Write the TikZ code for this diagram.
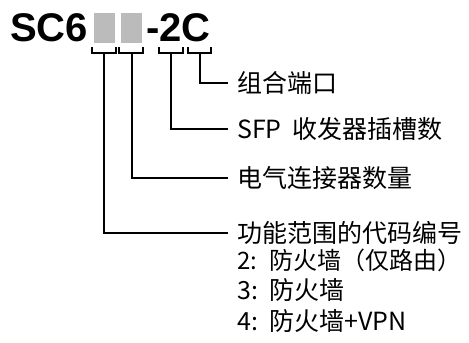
\documentclass[tikz,border=0pt]{standalone}
\usepackage{fontspec}
\setmainfont{Liberation Sans}
\newfontfamily\cjk{Noto Sans CJK SC}
\definecolor{boxgray}{RGB}{187,187,187}
\newcommand{\numlead}[1]{\makebox[32pt][l]{#1}}
\begin{document}
\begin{tikzpicture}[x=1pt,y=-1pt,
  titletext/.style={anchor=base west,inner sep=0pt,font=\bfseries\fontsize{40}{40}\selectfont},
  graybox/.style={fill=boxgray,draw=none,minimum width=21pt,minimum height=30pt,inner sep=0pt},
  bracketline/.style={line width=2pt,line join=miter},
  conn/.style={line width=2pt,shorten >=9pt},
  lbl/.style={anchor=west,inner sep=0pt,font=\cjk\fontsize{25}{25}\selectfont}]
\useasboundingbox (0,0) rectangle (469,343);
% title
\node[titletext] (sc6) at (10,41) {SC6};
\node[graybox] (g1) at (104.5,28) {};
\node[graybox] (g2) at (131.5,28) {};
\node[titletext] (tail) at (146,41) {-2C};
% brackets
\draw[bracketline] (92,47) -- (92,53) -- (116,53) -- (116,47);
\draw[bracketline] (119,47) -- (119,53) -- (143,53) -- (143,47);
\draw[bracketline] (159,47) -- (159,53) -- (183,53) -- (183,47);
\draw[bracketline] (188,47) -- (188,53) -- (211,53) -- (211,47);
\coordinate (b1) at (104,53);
\coordinate (b2) at (131.5,53);
\coordinate (b3) at (171,53);
\coordinate (b4) at (199.5,53);
% labels
\node[lbl] (l1) at (237,83) {组合端口};
\node[lbl] (l2) at (237,129) {\makebox[55pt][l]{SFP}收发器插槽数};
\node[lbl] (l3) at (237,178) {电气连接器数量};
\node[lbl] (l4) at (237,233) {功能范围的代码编号};
\node[lbl,font=\cjk\fontsize{24}{24}\selectfont] (l5) at (237,260) {\numlead{2:}防火墙（仅路由）};
\node[lbl] (l6) at (237,290) {\numlead{3:}防火墙};
\node[lbl] (l7) at (237,321) {\numlead{4:}防火墙+VPN};
% connectors
\draw[conn] (b4) |- (l1.west);
\draw[conn] (b3) |- (l2.west);
\draw[conn] (b2) |- (l3.west);
\draw[conn] (b1) |- (l4.west);
\end{tikzpicture}
\end{document}
